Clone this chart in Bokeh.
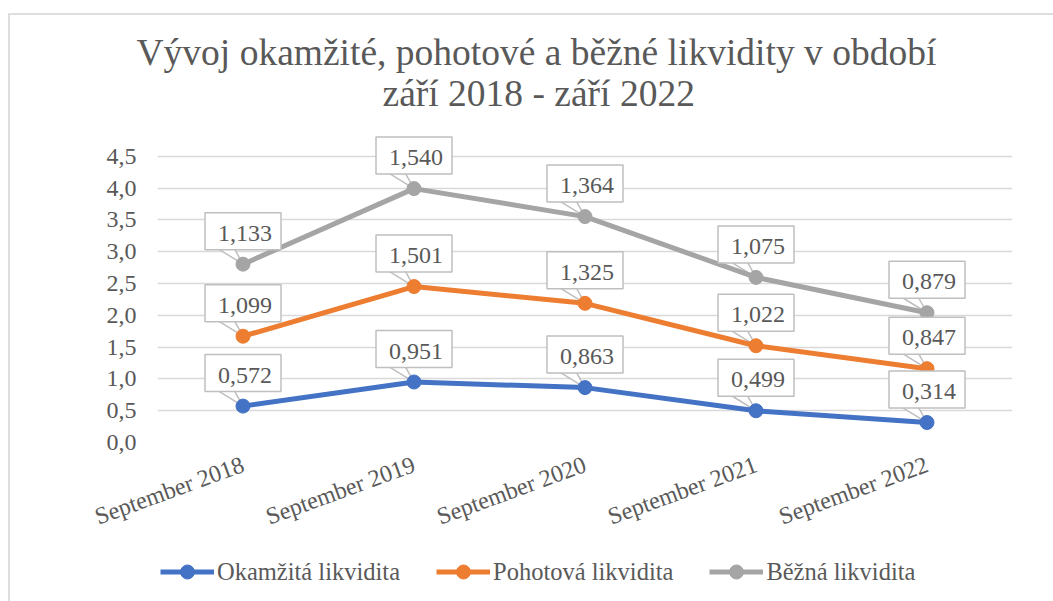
import numpy as np
from bokeh.plotting import figure
from bokeh.layouts import column
from bokeh.models import (Range1d, FixedTicker, CustomJSTickFormatter, Label,
                          ColumnDataSource, Legend, LegendItem, Title)
from bokeh.embed import file_html
from bokeh.resources import INLINE

# ---- data ----
categories = ["September 2018", "September 2019", "September 2020", "September 2021", "September 2022"]
okamzita = [0.572, 0.951, 0.863, 0.499, 0.314]
pohotova = [1.099, 1.501, 1.325, 1.022, 0.847]
bezna = [1.133, 1.540, 1.364, 1.075, 0.879]
series_names = ["Okamžitá likvidita", "Pohotová likvidita", "Běžná likvidita"]
y_ticks = [0.0, 0.5, 1.0, 1.5, 2.0, 2.5, 3.0, 3.5, 4.0, 4.5]

FONT = "Liberation Serif"
TXT = "#595959"
colors = ["#4472C4", "#ED7D31", "#A5A5A5"]

OX, OY = 10, 15          # content origin on the page (css margin + chart border)
W = 1053 - OX
MB = 102
H1 = (442 - OY) + MB     # main chart
H2 = (601 - OY) - H1     # legend strip
Y_END = 5.0
ML, MR = 157 - OX, W - (1012 - OX)
frame_h_target = (442 - 156) / 4.5 * Y_END
MT = int(round(H1 - MB - frame_h_target))
frame_w = W - ML - MR
frame_h = H1 - MT - MB

p = figure(width=W, height=H1, output_backend="svg", toolbar_location=None,
           x_range=Range1d(-0.5, len(categories) - 0.5), y_range=Range1d(0, Y_END),
           min_border_left=ML, min_border_right=MR, min_border_top=MT, min_border_bottom=MB,
           title="Vývoj okamžité, pohotové a běžné likvidity v období")
p.outline_line_color = None
p.background_fill_color = "white"
p.border_fill_color = "white"

p.title.text_font = FONT
p.title.text_font_size = "37.5px"
p.title.text_font_style = "normal"
p.title.text_color = TXT
p.title.align = "left"
p.title.offset = -21
p.title.standoff = -26
t2 = Title(text="září 2018 - září 2022", text_font=FONT, text_font_size="37.5px",
           text_font_style="normal", text_color=TXT, align="left", offset=225, standoff=22)
p.add_layout(t2, "above")

# axes
p.xaxis.ticker = FixedTicker(ticks=list(range(len(categories))))
p.xaxis.major_label_overrides = {i: c for i, c in enumerate(categories)}
p.xaxis.major_label_orientation = 0.35
p.yaxis.ticker = FixedTicker(ticks=y_ticks)
p.yaxis.formatter = CustomJSTickFormatter(code="return tick.toFixed(1).replace('.', ',');")
for ax in (p.xaxis[0], p.yaxis[0]):
    ax.axis_line_color = None
    ax.major_tick_line_color = None
    ax.minor_tick_line_color = None
    ax.major_label_text_font = FONT
    ax.major_label_text_font_size = "24px"
    ax.major_label_text_color = TXT
p.xaxis.major_label_standoff = 15
p.yaxis.major_label_standoff = 15
p.xgrid.grid_line_color = None
p.ygrid.grid_line_color = "#D9D9D9"
p.ygrid.grid_line_width = 1.5

# stacked lines
x = list(range(len(categories)))
vals = [okamzita, pohotova, bezna]
cum = np.cumsum(np.array(vals), axis=0)

px_x = frame_w / len(categories)     # pixels per x unit
px_y = frame_h / Y_END               # pixels per y unit

sources = []
for k in range(3):
    src = ColumnDataSource(dict(x=x, y=list(cum[k])))
    sources.append(src)
    xs, ys = [], []
    for xi, yi in zip(x, cum[k]):
        xs.append([xi, xi - 26 / px_x, xi - 9 / px_x])
        ys.append([yi, yi + 16 / px_y, yi + 16 / px_y])
    p.patches(xs, ys, fill_color="white", line_color="#BFBFBF", line_width=1.5)
    p.line("x", "y", source=src, line_color=colors[k], line_width=5)
    p.scatter("x", "y", source=src, size=14, fill_color=colors[k], line_color=colors[k])
    for xi, yi, v in zip(x, cum[k], vals[k]):
        lab = Label(x=xi, y=float(yi), y_offset=33, text=f"{v:.3f}".replace(".", ","),
                    text_align="center", text_baseline="middle",
                    text_font=FONT, text_font_size="24px", text_color=TXT,
                    background_fill_color="white", border_line_color="#BFBFBF",
                    border_line_width=1.5, padding=(13, 9, 13, 9))
        p.add_layout(lab)

# legend strip (same series, drawn outside its visible range; only the legend shows)
p2 = figure(width=W, height=H2, output_backend="svg", toolbar_location=None, title=None,
            x_range=Range1d(-100, -99), y_range=Range1d(-100, -99), min_border=0,
            x_axis_location=None, y_axis_location=None)
p2.grid.visible = False
p2.outline_line_color = None
p2.background_fill_color = "white"
p2.border_fill_color = "white"
items = []
for k in range(3):
    ln = p2.line("x", "y", source=sources[k], line_color=colors[k], line_width=5)
    sc = p2.scatter("x", "y", source=sources[k], size=14, fill_color=colors[k], line_color=colors[k])
    items.append(LegendItem(label=series_names[k], renderers=[ln, sc]))
legend = Legend(items=items, orientation="horizontal", location=(3, 12),
                label_text_font=FONT, label_text_font_size="24.5px", label_text_color=TXT,
                glyph_width=54, glyph_height=35, label_standoff=3, spacing=36,
                padding=0, margin=0, border_line_color=None, background_fill_alpha=0)
p2.add_layout(legend, "center")

layout = column(p, p2, spacing=0)
layout.styles = {"margin-left": "8px", "margin-top": "13px",
                 "border-left": "2px solid #DEDEDE", "border-top": "2px solid #DEDEDE"}
open("out.html", "w").write(file_html(layout, INLINE))
